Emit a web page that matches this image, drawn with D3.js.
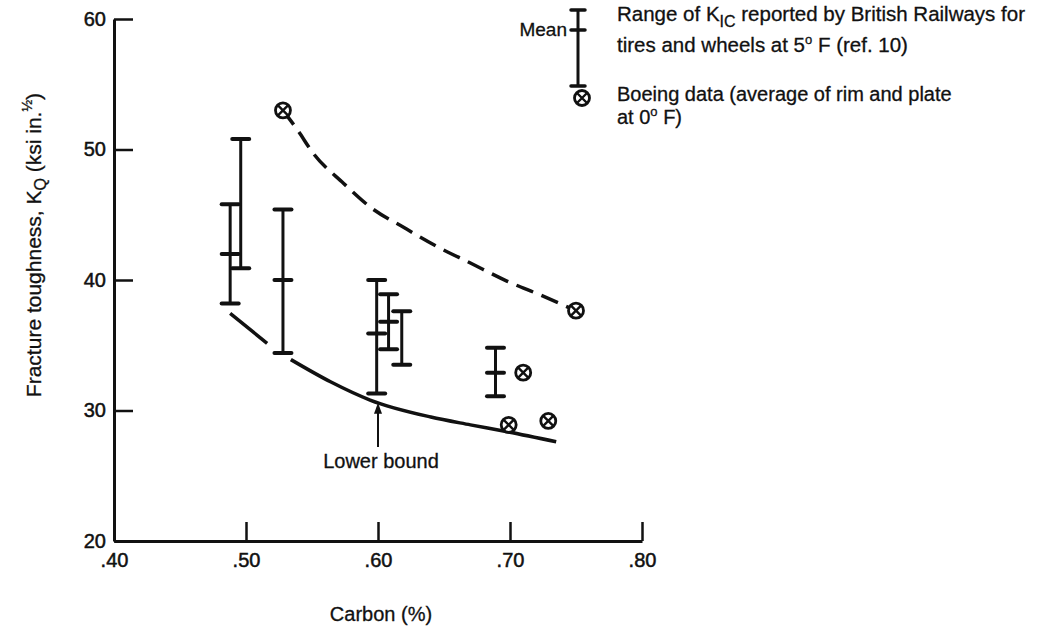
<!DOCTYPE html>
<html>
<head>
<meta charset="utf-8">
<script src="https://cdn.jsdelivr.net/npm/d3@7"></script>
<style>
  body { margin: 0; background: #fff; }
  text { font-family: "Liberation Sans", Arial, Helvetica, sans-serif; fill: #111; stroke: #111; stroke-width: 0.3px; }
</style>
</head>
<body>
<div id="chart"></div>
<script>
// British Railways K_IC ranges (carbon %, low, mean, high)
var barCarbon = [0.488, 0.496, 0.528, 0.599, 0.608, 0.618, 0.689];
var barLow    = [38.2, 40.9, 34.4, 31.3, 34.7, 33.5, 31.1];
var barMean   = [42.0, null, 40.0, 35.9, 36.8, null, 32.9];
var barHigh   = [45.8, 50.8, 45.4, 40.0, 38.9, 37.6, 34.8];

// Boeing data points
var boeingCarbon = [0.528, 0.699, 0.710, 0.729, 0.750];
var boeingK      = [53.0, 28.9, 32.9, 29.2, 37.65];

// dashed upper curve
var upperCarbon = [0.528, 0.539, 0.551, 0.574, 0.594, 0.620, 0.645, 0.670, 0.698, 0.723, 0.750];
var upperK      = [53.0, 51.5, 49.7, 47.4, 45.6, 44.0, 42.55, 41.3, 39.9, 38.85, 37.65];

// solid lower bound (null = break in the line)
var lowerCarbon = [0.488, 0.516, 0.522, 0.534, 0.564, 0.594, 0.640, 0.670, 0.698, 0.735];
var lowerK      = [37.45, 35.15, null, 33.9, 32.2, 30.8, 29.5, 28.9, 28.37, 27.6];

var xTicks = [0.40, 0.50, 0.60, 0.70, 0.80];
var yTicks = [20, 30, 40, 50, 60];

var width = 1058, height = 626;

var svg = d3.select("#chart")
  .append("svg")
  .attr("width", width)
  .attr("height", height);

svg.append("rect").attr("width", width).attr("height", height).attr("fill", "#fff");

var x = d3.scaleLinear().domain([0.40, 0.80]).range([114, 642]);
var y = d3.scaleLinear().domain([20, 60]).range([541, 19]);

// X axis
var gx = svg.append("g")
  .attr("transform", "translate(0," + y(20) + ")")
  .call(d3.axisBottom(x)
    .tickValues(xTicks)
    .tickSize(-19)
    .tickSizeOuter(0)
    .tickPadding(12)
    .tickFormat(function(d) { return d3.format(".2f")(d).replace(/^0/, ""); }));

// Y axis
var gy = svg.append("g")
  .attr("transform", "translate(" + x(0.40) + ",0)")
  .call(d3.axisLeft(y)
    .tickValues(yTicks)
    .tickSize(-19)
    .tickSizeOuter(0)
    .tickPadding(8));

[gx, gy].forEach(function(g) {
  g.select(".domain").attr("stroke", "#111").attr("stroke-width", 3);
  g.selectAll(".tick line").attr("stroke", "#111").attr("stroke-width", 2.5);
  g.selectAll(".tick text").style("font-size", "20px").attr("fill", "#111")
    .style("stroke-width", "0.5px");
});

// axis titles
svg.append("text")
  .attr("x", 381)
  .attr("y", 621)
  .attr("text-anchor", "middle")
  .style("font-size", "20px")
  .text("Carbon (%)");

var yt = svg.append("text")
  .attr("transform", "translate(41,245) rotate(-90)")
  .attr("text-anchor", "middle")
  .style("font-size", "21px");
yt.append("tspan").text("Fracture toughness, K");
yt.append("tspan").attr("dy", 5).style("font-size", "16px").text("Q");
yt.append("tspan").attr("dy", -5).text(" (ksi in.");
yt.append("tspan").attr("dy", -9).style("font-size", "14px").text("½");
yt.append("tspan").attr("dy", 9).text(")");

// curves
var upper = upperCarbon.map(function(c, i) { return [c, upperK[i]]; });
var lower = lowerCarbon.map(function(c, i) { return [c, lowerK[i]]; });

var line = d3.line()
  .defined(function(d) { return d[1] != null; })
  .x(function(d) { return x(d[0]); })
  .y(function(d) { return y(d[1]); })
  .curve(d3.curveMonotoneX);

svg.append("path")
  .datum(upper)
  .attr("d", line)
  .attr("fill", "none")
  .attr("stroke", "#111")
  .attr("stroke-width", 3.5)
  .attr("stroke-dasharray", "18,9");

svg.append("path")
  .datum(lower)
  .attr("d", line)
  .attr("fill", "none")
  .attr("stroke", "#111")
  .attr("stroke-width", 3.5);

// error bars
var bars = barCarbon.map(function(c, i) {
  return {c: c, low: barLow[i], mean: barMean[i], high: barHigh[i]};
});
var capW = 8.5;

var gb = svg.selectAll(".ebar")
  .data(bars)
  .enter()
  .append("g")
  .attr("class", "ebar")
  .attr("stroke", "#111");

gb.append("line")
  .attr("x1", function(d) { return x(d.c); })
  .attr("x2", function(d) { return x(d.c); })
  .attr("y1", function(d) { return y(d.low); })
  .attr("y2", function(d) { return y(d.high); })
  .attr("stroke-width", 3);

["low", "high", "mean"].forEach(function(k) {
  gb.filter(function(d) { return d[k] != null; })
    .append("line")
    .attr("x1", function(d) { return x(d.c) - capW; })
    .attr("x2", function(d) { return x(d.c) + capW; })
    .attr("y1", function(d) { return y(d[k]); })
    .attr("y2", function(d) { return y(d[k]); })
    .attr("stroke-width", 4)
    .attr("stroke-linecap", "round");
});

// Boeing markers
function crossCircle(g) {
  g.append("circle").attr("r", 7.5).attr("fill", "#fff").attr("stroke", "#111").attr("stroke-width", 2.8);
  g.append("path").attr("d", "M-5,-5L5,5M-5,5L5,-5")
    .attr("stroke", "#111").attr("stroke-width", 2.4);
}

svg.selectAll(".boeing")
  .data(boeingCarbon)
  .enter()
  .append("g")
  .attr("class", "boeing")
  .attr("transform", function(d, i) { return "translate(" + x(d) + "," + y(boeingK[i]) + ")"; })
  .each(function() { crossCircle(d3.select(this)); });

// lower bound annotation
var arrowX = x(0.60), arrowTip = y(30.6), arrowTail = y(27.2);
svg.append("line")
  .attr("x1", arrowX).attr("x2", arrowX)
  .attr("y1", arrowTail).attr("y2", arrowTip + 8)
  .attr("stroke", "#111").attr("stroke-width", 2);
svg.append("path")
  .attr("d", "M" + arrowX + "," + arrowTip + "l-4,11h8z")
  .attr("fill", "#111");
svg.append("text")
  .attr("x", 381)
  .attr("y", 468)
  .attr("text-anchor", "middle")
  .style("font-size", "20px")
  .text("Lower bound");

// legend
var lg = svg.append("g");
var lx = 578;
lg.append("line").attr("x1", lx).attr("x2", lx).attr("y1", 10).attr("y2", 86)
  .attr("stroke", "#111").attr("stroke-width", 3);
[10, 30, 86].forEach(function(v) {
  lg.append("line").attr("x1", lx - 7).attr("x2", lx + 7).attr("y1", v).attr("y2", v)
    .attr("stroke", "#111").attr("stroke-width", 3.5).attr("stroke-linecap", "round");
});
lg.append("text").attr("x", 567).attr("y", 36).attr("text-anchor", "end")
  .style("font-size", "19px").text("Mean");

var t1 = lg.append("text").attr("x", 617).attr("y", 21).style("font-size", "20.5px");
t1.append("tspan").text("Range of K");
t1.append("tspan").attr("dy", 6).style("font-size", "16px").text("IC");
t1.append("tspan").attr("dy", -6).text(" reported by British Railways for");

var t2 = lg.append("text").attr("x", 617).attr("y", 52).style("font-size", "20.5px");
t2.append("tspan").text("tires and wheels at 5");
t2.append("tspan").attr("dy", -8).style("font-size", "13px").text("o");
t2.append("tspan").attr("dy", 8).text(" F (ref. 10)");

var bm = lg.append("g").attr("transform", "translate(582,98)");
crossCircle(bm);

var t3 = lg.append("text").attr("x", 617).attr("y", 101).style("font-size", "20px");
t3.text("Boeing data (average of rim and plate");
var t4 = lg.append("text").attr("x", 617).attr("y", 124).style("font-size", "20px");
t4.append("tspan").text("at 0");
t4.append("tspan").attr("dy", -8).style("font-size", "13px").text("o");
t4.append("tspan").attr("dy", 8).text(" F)");
</script>
</body>
</html>
